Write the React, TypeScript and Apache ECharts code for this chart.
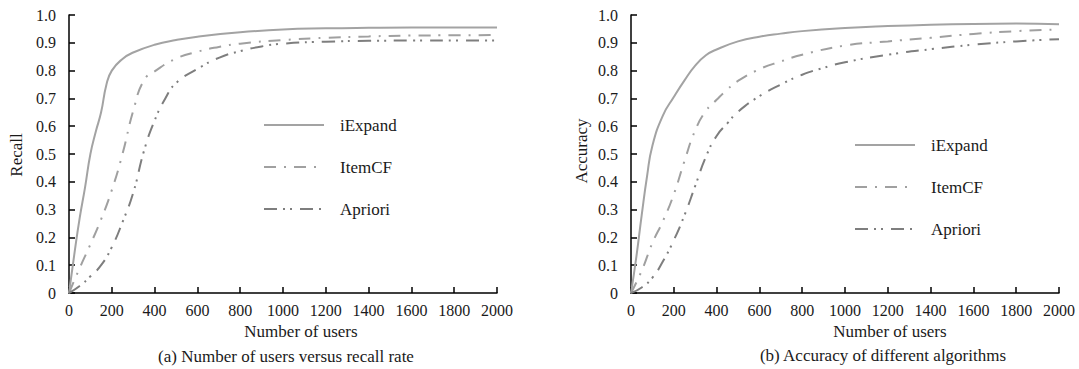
import React, { useEffect, useRef } from "react";
import * as echarts from "echarts";

const xTicks = [0, 200, 400, 600, 800, 1000, 1200, 1400, 1600, 1800, 2000];
const seriesNames = ["iExpand", "ItemCF", "Apriori"];

// (a) Recall
const recallUsersIExpand = [0, 25, 50, 75, 100, 125, 150, 175, 200, 250, 300, 400, 500, 600, 800, 1000, 1200, 1400, 1600, 1800, 2000];
const recallIExpand = [0, 0.14, 0.27, 0.38, 0.5, 0.58, 0.65, 0.75, 0.8, 0.842, 0.865, 0.893, 0.91, 0.922, 0.938, 0.948, 0.952, 0.954, 0.955, 0.955, 0.955];
const recallUsersItemCF = [0, 50, 100, 150, 200, 250, 300, 350, 400, 500, 600, 700, 800, 1000, 1200, 1400, 1600, 1800, 2000];
const recallItemCF = [0, 0.09, 0.175, 0.265, 0.37, 0.5, 0.655, 0.765, 0.797, 0.843, 0.868, 0.885, 0.897, 0.91, 0.918, 0.923, 0.926, 0.927, 0.928];
const recallUsersApriori = [0, 50, 100, 150, 200, 250, 300, 350, 400, 450, 500, 600, 700, 800, 900, 1000, 1200, 1400, 1600, 1800, 2000];
const recallApriori = [0, 0.025, 0.06, 0.1, 0.165, 0.255, 0.36, 0.51, 0.62, 0.7, 0.755, 0.806, 0.846, 0.87, 0.887, 0.897, 0.904, 0.907, 0.908, 0.908, 0.908];

// (b) Accuracy
const accUsersIExpand = [0, 25, 50, 75, 100, 150, 200, 250, 300, 350, 400, 500, 600, 700, 800, 1000, 1200, 1400, 1600, 1800, 2000];
const accIExpand = [0, 0.13, 0.28, 0.42, 0.53, 0.64, 0.705, 0.765, 0.818, 0.855, 0.876, 0.905, 0.922, 0.933, 0.942, 0.953, 0.96, 0.965, 0.968, 0.969, 0.967];
const accUsersItemCF = [0, 50, 100, 150, 200, 250, 300, 350, 400, 450, 500, 600, 700, 800, 1000, 1200, 1400, 1600, 1800, 2000];
const accItemCF = [0, 0.08, 0.18, 0.26, 0.355, 0.475, 0.585, 0.655, 0.695, 0.732, 0.763, 0.805, 0.833, 0.857, 0.89, 0.905, 0.918, 0.932, 0.942, 0.948];
const accUsersApriori = [0, 50, 100, 150, 200, 250, 300, 350, 400, 450, 500, 600, 700, 800, 900, 1000, 1200, 1400, 1600, 1800, 2000];
const accApriori = [0, 0.02, 0.055, 0.115, 0.19, 0.28, 0.385, 0.49, 0.565, 0.61, 0.652, 0.708, 0.75, 0.785, 0.81, 0.83, 0.857, 0.877, 0.893, 0.905, 0.913];

const FONT = '"Liberation Serif", "Times New Roman", serif';
const FS = 16;
const FS2 = 17;
const TXT = "#1a1a1a";

const pairs = (xs: number[], ys: number[]) => xs.map((x, i) => [x, ys[i]]);

const styles: Record<string, any> = {
  iExpand: { color: "#a3a3a3", width: 2, type: "solid" },
  ItemCF: { color: "#a0a0a0", width: 2, type: [12, 8, 2, 8] },
  Apriori: { color: "#7e7e7e", width: 2, type: [13, 6, 2, 5, 2, 8] },
};

export default function App() {
  const ref = useRef<HTMLDivElement>(null);
  useEffect(() => {
    if (!ref.current) return;
    const chart = echarts.init(ref.current, null, { renderer: "svg" });
    const axisCommon = {
      axisLine: { show: true, onZero: false, lineStyle: { color: "#000", width: 1.5 } },
      axisTick: { show: true, inside: true, length: 6, lineStyle: { color: "#000", width: 1.5 } },
      splitLine: { show: false },
    };
    const xAxis = (gi: number) => ({
      type: "value",
      gridIndex: gi,
      min: xTicks[0],
      max: xTicks[xTicks.length - 1],
      interval: 200,
      ...axisCommon,
      axisLabel: {
        color: TXT,
        fontFamily: FONT,
        fontSize: FS,
        margin: 9,
        formatter: (v: number) => String(v),
      },
    });
    const yAxis = (gi: number) => ({
      type: "value",
      gridIndex: gi,
      min: 0,
      max: 1,
      interval: 0.1,
      ...axisCommon,
      axisLabel: {
        color: TXT,
        fontFamily: FONT,
        fontSize: FS,
        margin: 13,
        formatter: (v: number) => (v === 0 ? "0" : v.toFixed(1)),
      },
    });
    const mk = (name: string, gi: number, xs: number[], ys: number[]) => ({
      type: "line",
      name,
      xAxisIndex: gi,
      yAxisIndex: gi,
      data: pairs(xs, ys),
      symbol: "none",
      showSymbol: false,
      smooth: 0.5,
      lineStyle: styles[name],
      itemStyle: { color: styles[name].color },
    });
    const legend = (left: number, top: number) => ({
      data: seriesNames,
      orient: "vertical",
      left,
      top,
      itemWidth: 60,
      itemHeight: 20,
      itemGap: 22,
      selectedMode: false,
      itemStyle: { opacity: 0 },
      textStyle: {
        color: TXT,
        fontFamily: FONT,
        fontSize: FS2,
        lineHeight: 20,
        padding: [0, 0, 0, 11],
      },
    });
    const text = (x: number, y: number, t: string, rot = 0) => ({
      type: "text",
      x,
      y,
      rotation: rot,
      style: {
        text: t,
        fill: TXT,
        font: `${FS2}px ${FONT}`,
        align: "center",
        verticalAlign: "middle",
      },
    });
    chart.setOption({
      animation: false,
      backgroundColor: "#fff",
      grid: [
        { left: 69, top: 15, width: 428, height: 278 },
        { left: 631, top: 15, width: 428, height: 278 },
      ],
      xAxis: [xAxis(0), xAxis(1)],
      yAxis: [yAxis(0), yAxis(1)],
      legend: [legend(258, 110), legend(849, 130)],
      series: [
        mk("iExpand", 0, recallUsersIExpand, recallIExpand),
        mk("ItemCF", 0, recallUsersItemCF, recallItemCF),
        mk("Apriori", 0, recallUsersApriori, recallApriori),
        mk("iExpand", 1, accUsersIExpand, accIExpand),
        mk("ItemCF", 1, accUsersItemCF, accItemCF),
        mk("Apriori", 1, accUsersApriori, accApriori),
      ],
      graphic: [
        text(16, 155, "Recall", Math.PI / 2),
        text(581, 151, "Accuracy", Math.PI / 2),
        text(301, 331, "Number of users"),
        text(890, 331, "Number of users"),
        text(286, 356, "(a) Number of users versus recall rate"),
        text(883, 355, "(b) Accuracy of different algorithms"),
      ],
    });
    return () => chart.dispose();
  }, []);
  return (
    <div
      ref={ref}
      style={{ position: "fixed", left: 0, top: 0, width: 1079, height: 369, background: "#fff" }}
    />
  );
}
